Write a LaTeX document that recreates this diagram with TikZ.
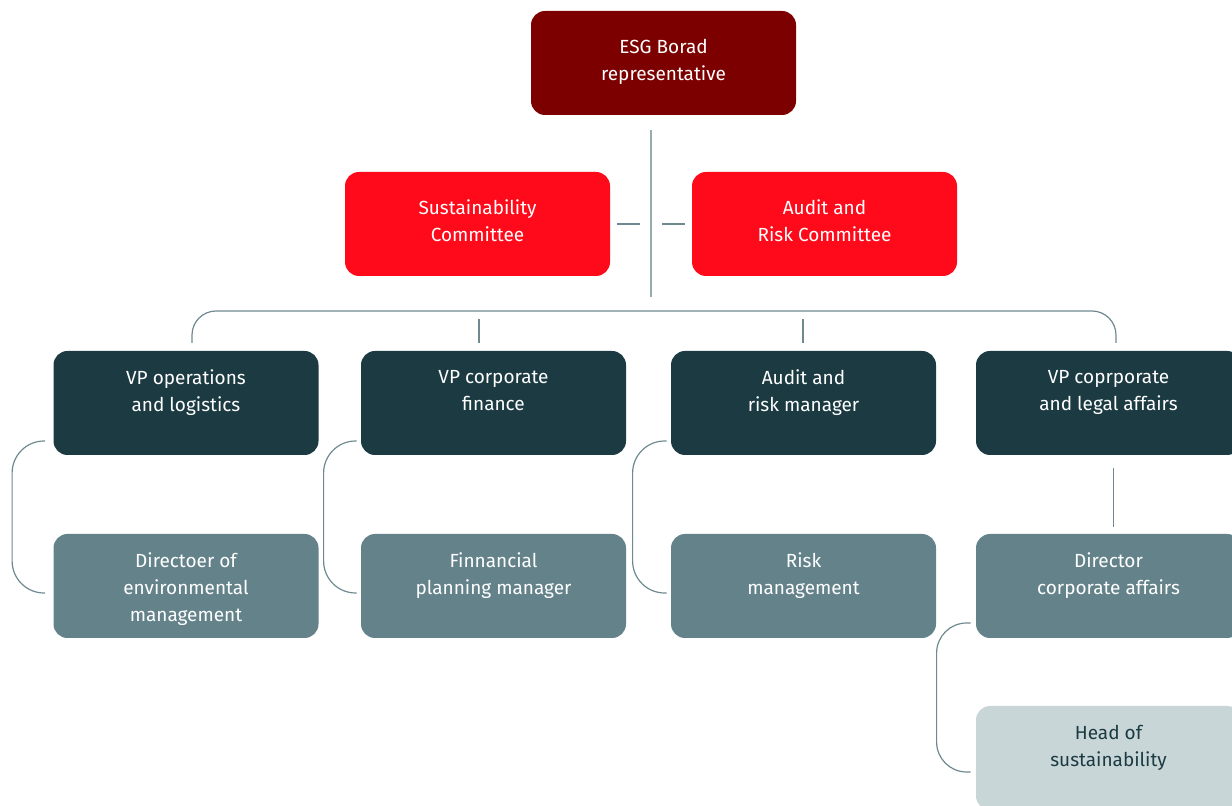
\documentclass[tikz,border=0pt]{standalone}
\usepackage{fontspec}
\setmainfont{Fira Sans}
\usetikzlibrary{positioning}

\definecolor{boardred}{HTML}{7D0000}
\definecolor{commred}{HTML}{FF0A1A}
\definecolor{darkteal}{HTML}{1B3A42}
\definecolor{midteal}{HTML}{64828A}
\definecolor{paleteal}{HTML}{C9D6D8}
\definecolor{linkgray}{HTML}{6E8A90}
\definecolor{spinegray}{HTML}{9AABAE}

\newcommand{\boxlines}[2][33pt]{\parbox[c][#1][t]{128pt}{\centering #2}}

\tikzset{
  orgbox/.style={rounded corners=7pt, minimum width=132.5pt, minimum height=52pt,
    inner sep=0pt, font=\fontsize{9.5}{13.5}\selectfont, text=white},
  boardbox/.style={orgbox, fill=boardred},
  commbox/.style={orgbox, fill=commred},
  vpbox/.style={orgbox, fill=darkteal},
  dirbox/.style={orgbox, fill=midteal},
  headbox/.style={orgbox, fill=paleteal, text=darkteal},
  link/.style={draw=linkgray, line width=0.6pt},
  spine/.style={draw=spinegray, line width=0.8pt}
}

\begin{document}
\begin{tikzpicture}[x=0.5pt, y=-0.5pt]
\useasboundingbox (0,0) rectangle (1232,806);
\clip (0,0) rectangle (1232,806);

% top
\node[boardbox] (esg) at (663.5,63) {\boxlines[24pt]{ESG Borad\\representative}};
\node[commbox] (sus) at (477.5,224) {\boxlines[24pt]{Sustainability\\Committee}};
\node[commbox] (arc) at (824.5,224) {\boxlines[24pt]{Audit and\\Risk Committee}};

% vice presidents
\node[vpbox] (vpops) at (186,403) {\boxlines{VP operations\\and logistics}};
\node[vpbox] (vpfin) at (493.5,403) {\boxlines{VP corporate\\finance}};
\node[vpbox] (arm) at (803.5,403) {\boxlines{Audit and\\risk manager}};
\node[vpbox] (vplegal) at (1108.5,403) {\boxlines{VP coprporate\\and legal affairs}};

% directors
\node[dirbox] (direnv) at (186,586) {\boxlines{Directoer of\\environmental\\management}};
\node[dirbox] (fpm) at (493.5,586) {\boxlines{Finnancial\\planning manager}};
\node[dirbox] (riskmgmt) at (803.5,586) {\boxlines{Risk\\management}};
\node[dirbox] (dircorp) at (1108.5,586) {\boxlines{Director\\corporate affairs}};
\node[headbox] (headsus) at (1108.5,758) {\boxlines{Head of\\sustainability}};

% spine and committee ticks
\coordinate (spinetop) at (651,130);
\coordinate (spinebot) at (651,297);
\draw[spine] (spinetop) -- (spinebot);
\draw[link] ([xshift=3.5pt]sus.east) -- ++(23,0);
\draw[link] ([xshift=-3.5pt]arc.west) -- ++(-23,0);

% bracket over the vice presidents
\draw[link, rounded corners=12pt] (192,343) -- (192,311) -- (1116,311) -- (1116,343);
\draw[link] (479,319) -- (479,343);
\draw[link] (803,319) -- (803,343);

% side brackets
\draw[link, rounded corners=16pt] ([shift={(-8,38)}]vpops.west) -- ++(-33,0) |- ([shift={(-8,7)}]direnv.west);
\draw[link, rounded corners=16pt] ([shift={(-4,38)}]vpfin.west) -- ++(-33,0) |- ([shift={(-4,7)}]fpm.west);
\draw[link, rounded corners=16pt] ([shift={(-4,38)}]arm.west) -- ++(-34,0) |- ([shift={(-4,7)}]riskmgmt.west);
\draw[link] ([shift={(5,13)}]vplegal.south) -- ([shift={(5,-7)}]dircorp.north);
\draw[link, rounded corners=15pt] ([shift={(-5,37)}]dircorp.west) -- ++(-34,0) |- ([shift={(-5,14)}]headsus.west);
\end{tikzpicture}
\end{document}
